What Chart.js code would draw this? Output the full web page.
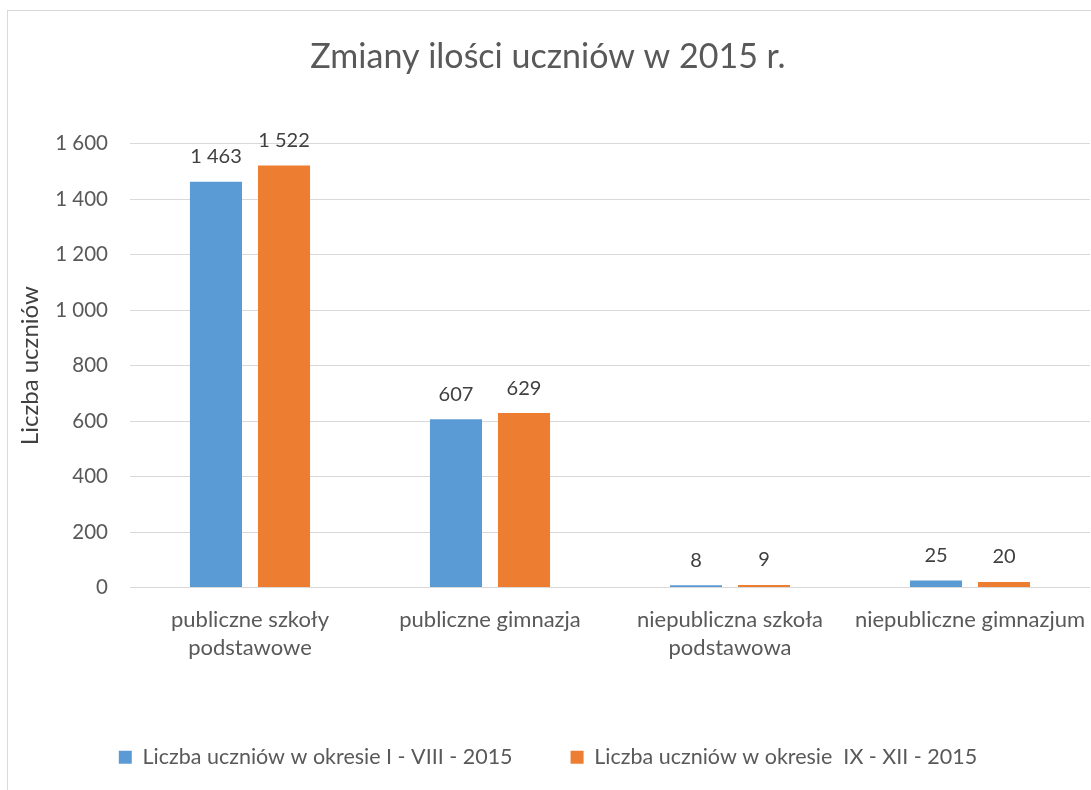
<!DOCTYPE html>
<html>
<head>
<meta charset="utf-8">
<script src="https://cdn.jsdelivr.net/npm/chart.js@4.4.0/dist/chart.umd.min.js"></script>
<style>
  html, body { margin: 0; padding: 0; background: #fff; overflow: hidden; }
  #frame { position: absolute; left: 7px; top: 10px; width: 1200px; height: 900px; border: 1px solid #d9d9d9; }
  #wrap { position: absolute; left: 0; top: 0; width: 1091px; height: 790px; }
</style>
</head>
<body>
<div id="frame"></div>
<div id="wrap"><canvas id="chart" width="1091" height="790"></canvas></div>
<script>
const categories = [
  ['publiczne szkoły', 'podstawowe'],
  'publiczne gimnazja',
  ['niepubliczna szkoła', 'podstawowa'],
  'niepubliczne gimnazjum'
];
const seriesNames = ['Liczba uczniów w okresie I - VIII - 2015', 'Liczba uczniów w okresie  IX - XII - 2015'];
const firstPeriod = [1463, 607, 8, 25];
const secondPeriod = [1522, 629, 9, 20];
const yTicks = [0, 200, 400, 600, 800, 1000, 1200, 1400, 1600];

const FONT = 'Lato, "Liberation Sans", sans-serif';
const TEXT = '#595959';

// 1600 -> "1 600"
function fmt(v) {
  return String(v).replace(/\B(?=(\d{3})+(?!\d))/g, ' ');
}

const valueLabels = {
  id: 'valueLabels',
  afterDatasetsDraw(chart) {
    const ctx = chart.ctx;
    ctx.save();
    ctx.font = '20px ' + FONT;
    ctx.fillStyle = '#404040';
    ctx.textAlign = 'center';
    ctx.textBaseline = 'middle';
    chart.data.datasets.forEach((ds, i) => {
      chart.getDatasetMeta(i).data.forEach((bar, j) => {
        ctx.fillText(fmt(ds.data[j]), bar.x, bar.y - 25);
      });
    });
    ctx.restore();
  }
};

new Chart(document.getElementById('chart'), {
  type: 'bar',
  data: {
    labels: categories,
    datasets: [
      { label: seriesNames[0], data: firstPeriod, backgroundColor: '#5B9BD5' },
      { label: seriesNames[1], data: secondPeriod, backgroundColor: '#ED7D31' }
    ]
  },
  options: {
    responsive: false,
    animation: false,
    categoryPercentage: 0.567,
    barPercentage: 0.765,
    layout: { padding: { left: 6, right: 1, top: 0, bottom: 12 } },
    plugins: {
      title: {
        display: true,
        text: 'Zmiany ilości uczniów w 2015 r.',
        color: TEXT,
        font: { family: FONT, size: 34, weight: 'normal', lineHeight: 1.2 },
        padding: { top: 37, bottom: 66 }
      },
      legend: {
        position: 'bottom',
        labels: {
          color: TEXT,
          font: { family: FONT, size: 21.5 },
          boxWidth: 13,
          boxHeight: 13,
          padding: 58
        }
      },
      tooltip: { enabled: false }
    },
    scales: {
      x: {
        grid: { display: false },
        border: { display: false },
        ticks: {
          color: TEXT,
          font: { family: FONT, size: 22, lineHeight: 1.27 },
          padding: 10,
          maxRotation: 0,
          autoSkip: false
        },
        afterFit(scale) {
          scale.height = 101;
          // let the last label run past the plot edge, as in the original
          scale.paddingLeft = 0;
          scale.paddingRight = 0;
        }
      },
      y: {
        min: 0,
        max: 1600,
        afterBuildTicks(scale) { scale.ticks = yTicks.map(v => ({ value: v })); },
        grid: { color: '#d9d9d9', drawTicks: false },
        border: { display: false },
        ticks: {
          color: TEXT,
          font: { family: FONT, size: 20.5 },
          padding: 22,
          callback: v => fmt(v)
        },
        title: {
          display: true,
          text: 'Liczba uczniów',
          color: '#404040',
          font: { family: FONT, size: 24 },
          padding: { top: 10, bottom: 0 }
        },
        afterFit(scale) { scale.width = 124; }
      }
    }
  },
  plugins: [valueLabels]
});
</script>
</body>
</html>
